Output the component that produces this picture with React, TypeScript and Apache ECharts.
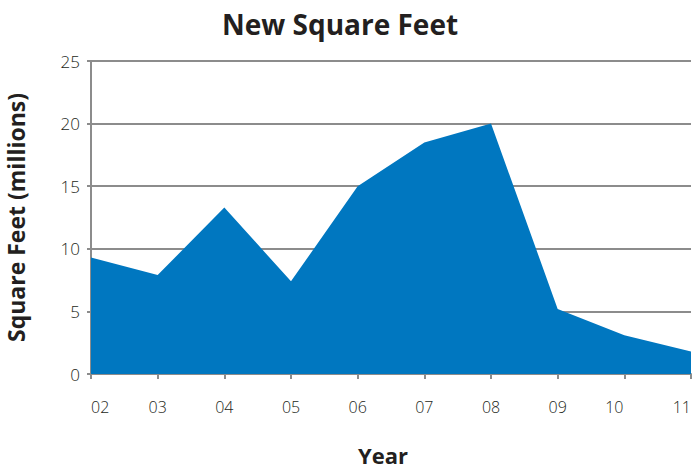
import React, { useEffect, useRef } from "react";
import * as echarts from "echarts";

const years = ["02", "03", "04", "05", "06", "07", "08", "09", "10", "11"];
const squareFeet = [9.3, 7.9, 13.3, 7.4, 15.0, 18.5, 20.0, 5.2, 3.1, 1.8];
const yTicks = { min: 0, max: 25, interval: 5 };

export default function App() {
  const ref = useRef<HTMLDivElement>(null);
  useEffect(() => {
    const chart = echarts.init(ref.current!, null, { renderer: "svg" });
    chart.setOption({
      animation: false,
      title: {
        text: "New Square Feet",
        left: 335,
        top: 5,
        textAlign: "center",
        textStyle: { fontFamily: "Open Sans", fontWeight: "bold", fontSize: 28, color: "#231f20" },
      },
      grid: { left: 91, right: 4, top: 61, bottom: 96, outerBoundsMode: "none", containLabel: false },
      xAxis: {
        type: "category",
        data: years,
        boundaryGap: false,
        name: "Year",
        nameLocation: "middle",
        nameGap: 70,
        nameTextStyle: { fontFamily: "Open Sans", fontWeight: "bold", fontSize: 22, color: "#231f20", padding: [0, 16, 0, 0] },
        axisLine: { lineStyle: { color: "#8c8c8c", width: 2 } },
        axisTick: { show: true, length: 5, lineStyle: { color: "#8c8c8c", width: 2 } },
        axisLabel: {
          fontFamily: "Open Sans",
          fontSize: 16,
          color: "#231f20",
          margin: 25,
          fontWeight: 300,
          alignMinLabel: "left",
          alignMaxLabel: "right",
          formatter: (v: string) => (v === "10" ? "{s|" + v + "}" : v),
          rich: { s: { fontFamily: "Open Sans", fontSize: 16, color: "#231f20", fontWeight: 300, padding: [0, 20, 0, 0] } },
        },
        splitLine: { show: false },
      },
      yAxis: {
        type: "value",
        min: yTicks.min,
        max: yTicks.max,
        interval: yTicks.interval,
        name: "Square Feet (millions)",
        nameLocation: "middle",
        nameGap: 64,
        nameTextStyle: { fontFamily: "Open Sans", fontWeight: "bold", fontSize: 23, color: "#231f20" },
        axisLine: { show: true, lineStyle: { color: "#8c8c8c", width: 2 } },
        axisTick: { show: true, length: 4, lineStyle: { color: "#8c8c8c", width: 2 } },
        axisLabel: { fontFamily: "Open Sans", fontSize: 17, color: "#231f20", margin: 11, fontWeight: 300 },
        splitLine: { show: true, lineStyle: { color: "#8c8c8c", width: 2 } },
      },
      series: [
        {
          type: "line",
          data: squareFeet,
          symbol: "none",
          lineStyle: { width: 0, color: "#0077c0" },
          areaStyle: { color: "#0077c0", opacity: 1 },
          z: 3,
        },
      ],
    });
    return () => chart.dispose();
  }, []);
  return <div ref={ref} style={{ width: 695, height: 470, position: "absolute", left: 0, top: 0 }} />;
}
